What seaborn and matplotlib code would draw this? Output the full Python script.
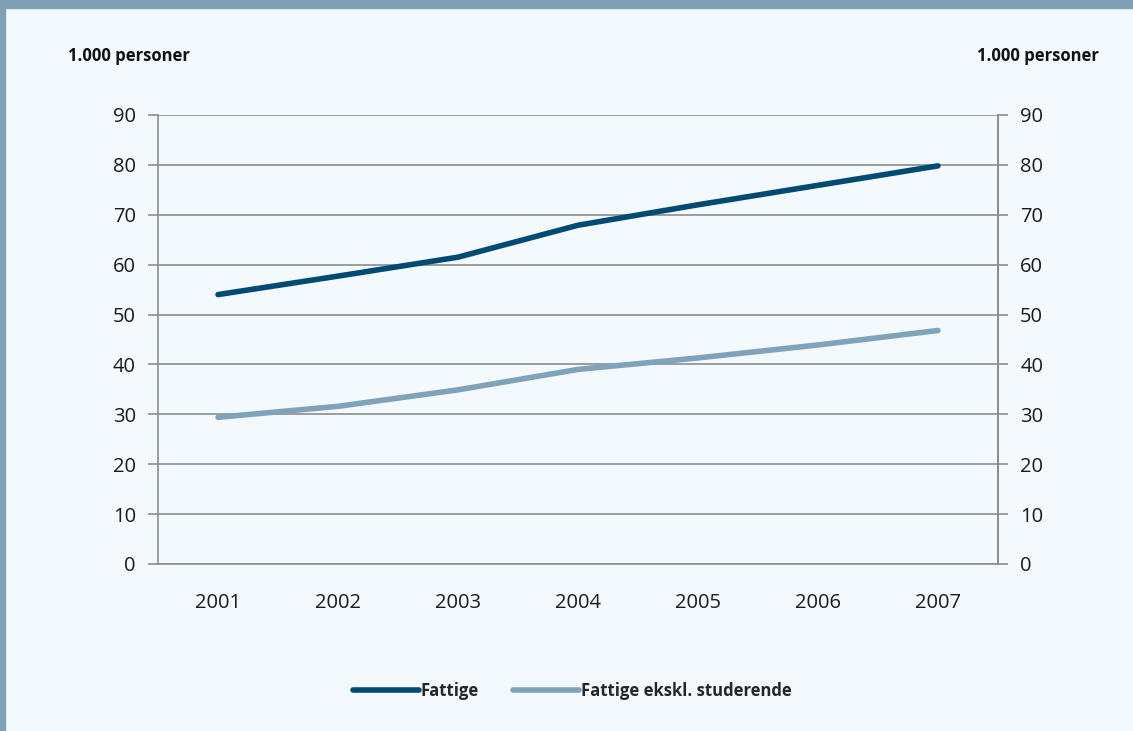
import matplotlib
matplotlib.use("Agg")
import matplotlib.pyplot as plt
import seaborn as sns
import pandas as pd
from matplotlib.patches import Rectangle
from matplotlib.lines import Line2D

years = ["2001", "2002", "2003", "2004", "2005", "2006", "2007"]
fattige = [54.0, 57.7, 61.5, 67.9, 72.0, 75.9, 79.8]
fattige_ekskl = [29.4, 31.6, 34.9, 39.0, 41.3, 43.9, 46.8]
series_names = ["Fattige", "Fattige ekskl. studerende"]
yticks = [0, 10, 20, 30, 40, 50, 60, 70, 80, 90]
unit_label = "1.000 personer"

bg = "#F4F9FD"
band = "#7FA0B5"
dark = "#004A73"
light = "#7FA3BA"
grid_c = "#8C8C8C"

sns.set_theme(style="white")
plt.rcParams["font.family"] = ["Open Sans", "DejaVu Sans"]

df = pd.DataFrame({
    "year": years * 2,
    "value": fattige + fattige_ekskl,
    "serie": [series_names[0]] * len(years) + [series_names[1]] * len(years),
})
df["x"] = df["year"].map({y: i for i, y in enumerate(years)})

fig = plt.figure(figsize=(11.33, 7.31), dpi=100, facecolor=bg)
fig.patches.append(Rectangle((0, 0.989), 1, 0.011, transform=fig.transFigure, color=band, zorder=0))
fig.patches.append(Rectangle((0, 0), 0.0048, 1, transform=fig.transFigure, color=band, zorder=0))

ax = fig.add_axes([0.1395, 0.2285, 0.7413, 0.6142])
ax.set_facecolor(bg)

sns.lineplot(data=df, x="x", y="value", hue="serie", palette=[dark, light],
             linewidth=4, ax=ax, legend=False, solid_capstyle="round", zorder=3)

ax.set_xlim(-0.5, len(years) - 0.5)
ax.set_ylim(0, 90)
ax.set_yticks(yticks)
ax.set_yticklabels([str(t) for t in yticks])
ax.set_xticks([i for i in range(len(years))])
ax.set_xticklabels(years)
ax.set_xticks([i - 0.5 for i in range(len(years) + 1)], minor=True)
ax.tick_params(axis="x", which="major", length=0, pad=21, labelsize=14.5, colors="#1a1a1a")
ax.tick_params(axis="x", which="minor", length=7, width=1.2, color=grid_c, direction="out")
ax.tick_params(axis="y", length=7, width=1.2, color=grid_c, direction="out", pad=9,
               labelsize=14.5, labelcolor="#1a1a1a")
ax.set_xlabel("")
ax.set_ylabel("")
ax.grid(axis="y", color=grid_c, linewidth=1.2, zorder=0)
ax.set_axisbelow(True)
ax.spines["top"].set_visible(False)
for s in ["left", "right", "bottom"]:
    ax.spines[s].set_color(grid_c)
    ax.spines[s].set_linewidth(1.2)

ax2 = ax.twinx()
ax2.set_ylim(0, 90)
ax2.set_yticks(yticks)
ax2.set_yticklabels([str(t) for t in yticks])
ax2.tick_params(axis="y", length=7, width=1.2, color=grid_c, direction="out", pad=9,
                labelsize=14.5, labelcolor="#1a1a1a")
for s in ["top", "left", "bottom"]:
    ax2.spines[s].set_visible(False)
ax2.spines["right"].set_color(grid_c)
ax2.spines["right"].set_linewidth(1.2)

fig.text(0.060, 0.924, unit_label, fontsize=12, fontweight="bold", ha="left", va="center",
         color="#111111")
fig.text(0.970, 0.924, unit_label, fontsize=12, fontweight="bold", ha="right", va="center",
         color="#111111")

handles = [Line2D([0], [0], color=dark, lw=4, solid_capstyle="round"),
           Line2D([0], [0], color=light, lw=4, solid_capstyle="round")]
fig.legend(handles, series_names, loc="center", bbox_to_anchor=(0.505, 0.055),
           ncol=2, frameon=False, handlelength=4.0, handletextpad=0.1,
           columnspacing=2.0, prop={"weight": "bold", "size": 12})

fig.savefig("out.png", dpi=100, facecolor=bg)
